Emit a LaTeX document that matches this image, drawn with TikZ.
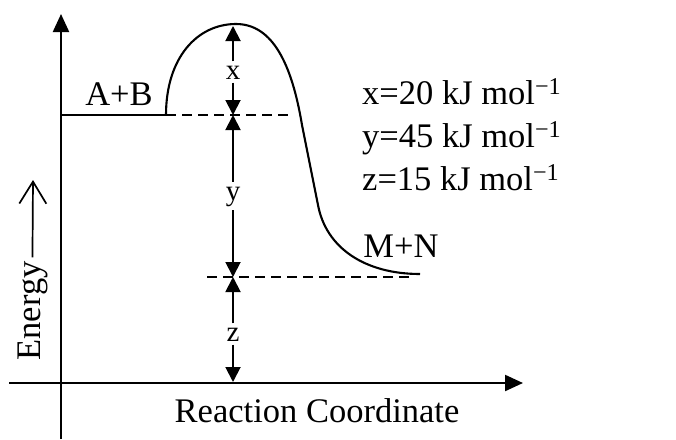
\documentclass[tikz,border=0pt]{standalone}
\usepackage{fontspec}
\setmainfont{Liberation Serif}
\usetikzlibrary{arrows.meta}
\begin{document}
\begin{tikzpicture}[x=1pt,y=-1pt,
  txt/.style={font=\fontsize{34.5}{40}\selectfont, inner sep=0pt},
  lbl/.style={font=\fontsize{29}{32}\selectfont, inner sep=0pt, text height=15pt, text depth=0pt},
  axisline/.style={line width=2.2pt,-{Triangle[length=18pt,width=16pt]}},
  dimline/.style={line width=1.9pt,-{Triangle[length=15pt,width=15pt]}},
  curveline/.style={line width=2.1pt},
  dashline/.style={line width=1.8pt, dash pattern=on 10pt off 6pt},
  energyarrow/.style={line width=1.7pt,-{Straight Barb[length=22pt,width=27pt,line width=1.7pt]}}
]
\useasboundingbox (0,0) rectangle (676,439);

% axes
\coordinate (yb) at (61,439);
\coordinate (yt) at (61,14);
\coordinate (xl) at (9,383);
\coordinate (xr) at (523,383);
\draw[axisline] (yb) -- (yt);
\draw[axisline] (xl) -- (xr);

% levels and curve
\coordinate (y0) at (61,115);
\coordinate (s) at (166,115);
\coordinate (pk) at (236,24);
\coordinate (m1) at (302,125);
\coordinate (m2) at (318,205);
\coordinate (e) at (420,274);
\coordinate (d1) at (294,115);
\coordinate (d2) at (207,277);
\coordinate (d3) at (410,277);

\draw[curveline] (y0) -- (s);
\draw[curveline] (s) .. controls (166,58) and (197,24) .. (pk)
  .. controls (273,24) and (292,65) .. (m1) -- (m2)
  .. controls (326,248) and (365,274) .. (e);
\draw[dashline] (s) -- (d1);
\draw[dashline] (d2) -- (d3);

% dimension arrows
\coordinate (ptop) at (233,26);
\coordinate (pab) at (233,115);
\coordinate (pmn) at (233,277);
\coordinate (pax) at (233,382);
\node[lbl] (lx) at (233,72) {x};
\node[lbl, text depth=7pt] (ly) at (233,196) {y};
\node[lbl] (lz) at (233,334) {z};
\draw[dimline, shorten <=3pt] (lx) -- (ptop);
\draw[dimline, shorten <=3pt] (lx) -- (pab);
\draw[dimline, shorten <=3pt] (ly) -- (pab);
\draw[dimline, shorten <=3pt] (ly) -- (pmn);
\draw[dimline, shorten <=3pt] (lz) -- (pmn);
\draw[dimline, shorten <=3pt] (lz) -- (pax);

% texts
\node[txt, anchor=base] (ab) at (119,105) {A+B};
\node[txt, anchor=base] (mn) at (401,257) {M+N};
\node[txt, anchor=base west] (vx) at (362,104) {x=20 kJ mol\textsuperscript{\char"2212 1}};
\node[txt, anchor=base west] (vy) at (362,147) {y=45 kJ mol\textsuperscript{\char"2212 1}};
\node[txt, anchor=base west] (vz) at (362,190) {z=15 kJ mol\textsuperscript{\char"2212 1}};
\node[txt, anchor=base] (rc) at (317,422) {Reaction Coordinate};
\node[txt, anchor=base, rotate=90] (en) at (40,311) {Energy};
\coordinate (et) at (33,180);
\draw[energyarrow, shorten <=4pt] (en.east) -- (et);
\end{tikzpicture}
\end{document}
